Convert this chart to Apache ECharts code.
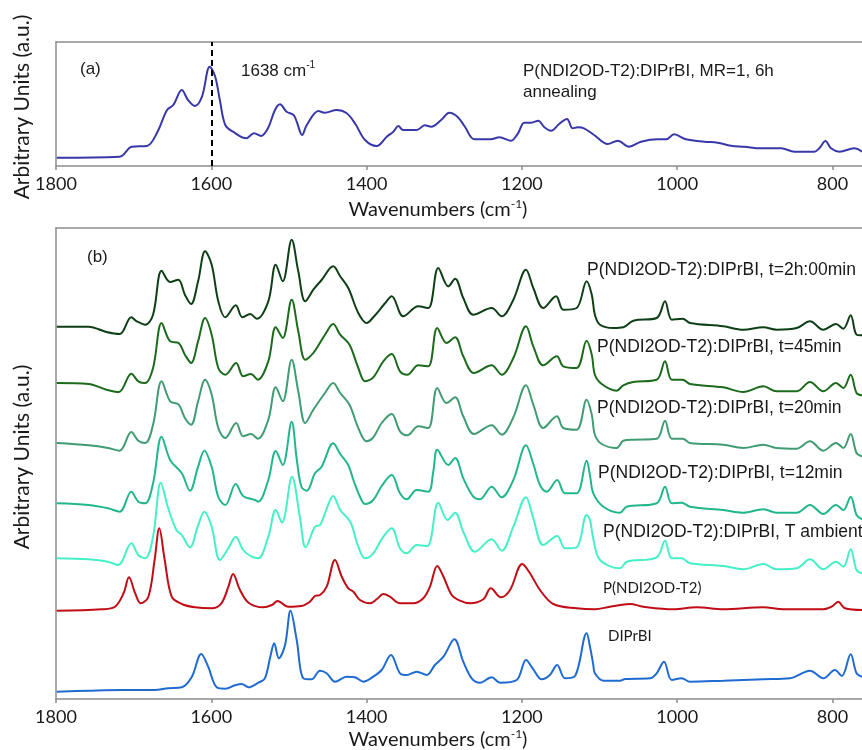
<!DOCTYPE html>
<html>
<head>
<meta charset="utf-8">
<script src="https://cdn.jsdelivr.net/npm/echarts@6/dist/echarts.min.js"></script>
<style>
  html, body { margin: 0; padding: 0; background: #fff; }
  #chart { width: 862px; height: 750px; }
</style>
</head>
<body>
<div id="chart"></div>
<script>
// Raman spectra: wavenumber (cm-1) against intensity (arbitrary units).
// Each spectrum is a list of [wavenumber, intensity] points.

const xTicks = [1800, 1600, 1400, 1200, 1000, 800];
const xMin = 762, xMax = 1800;
const peakMarker = 1600;

// (a) blend, MR=1, after 6 h annealing
const annealed6h = [[1799,8.3],[1718,9.3],[1702.5,19.3],[1683,20],[1670,33],[1657,56],[1649,61],[1638,76],[1630,66],[1621,60],[1612,69.3],[1602,99.3],[1595,89.3],[1589,66],[1582,41],[1572,34.3],[1555,27.7],[1545,32.7],[1536,30],[1527,37.7],[1518,56],[1511.5,61.7],[1503,54.3],[1494,51],[1490,44.3],[1483,31],[1477,41],[1462,55],[1454,53.3],[1438.5,56],[1425.6,52.7],[1415,42.7],[1402,26],[1387,20],[1374,29.3],[1365.6,34.3],[1359,40],[1353,36],[1335.5,36],[1325,40.7],[1317,39.3],[1304,46],[1293.5,53.3],[1283,49.3],[1274,40],[1261,26.7],[1240,26.7],[1229,28.7],[1214,25.3],[1205,32.7],[1197,43.3],[1188,43.3],[1179,45.3],[1171,38.7],[1162.5,35.3],[1152,42],[1142,47],[1134.6,37.7],[1128,38.7],[1120,37.7],[1107,31],[1089.5,22],[1076.6,25.3],[1062,19.3],[1046.6,24.3],[1025,26.7],[1014,26.7],[1004,31.7],[988.7,26.7],[965,24.3],[948,23.3],[930.7,20.3],[913.6,19.3],[892,17.7],[866,17.7],[849,14.3],[823.5,14.3],[817,17.7],[809,25],[802,17.7],[791,14.3],[772,17.7],[762,14.3]];

// (b) stacked spectra
const blend2h = [[1799,372.3],[1758,372.3],[1735,367],[1718,365],[1703,381.7],[1696,377.7],[1685,374.3],[1675,384.3],[1664,428.3],[1653,417],[1642.5,419.3],[1634,404.3],[1626,395],[1617,417.7],[1608,447.7],[1599.5,434.3],[1591,397.7],[1582,381.7],[1568.5,393.7],[1560,381.7],[1550,385],[1541.5,380.3],[1526.6,397.7],[1517,434.3],[1508,417.7],[1496.5,459.3],[1488,427.7],[1479,397.7],[1468.6,409.3],[1458,419],[1443,432.7],[1434,422.7],[1423.6,411],[1410.7,386],[1400,376],[1391.4,381.7],[1376,396],[1367.7,402.7],[1352.7,382.7],[1333.4,392.7],[1320.5,391],[1307.7,431],[1294.8,412.7],[1286,420.3],[1275.5,401],[1262.6,384.3],[1239,391],[1226,382.7],[1211,399.3],[1194.7,429.3],[1185.3,411],[1172.5,391],[1156,402.7],[1146.7,389.3],[1129.5,391],[1116.6,417.7],[1110,404.3],[1106,384.3],[1099.4,374.3],[1082.3,371],[1069.4,371.7],[1056.5,378.3],[1026.4,381],[1015.7,397.7],[1007,379.3],[993,380.3],[983.5,376],[940.7,372.7],[915,369.3],[889,371.7],[872,369.3],[846,371],[829,377.7],[811.9,369.3],[795.5,375],[786,370.3],[776.6,383.7],[769,364.3],[762,363.7]];

const blend45 = [[1799,316],[1758,315],[1735,309.3],[1719,307],[1703,325.3],[1694,317.7],[1685,316],[1675,331],[1664,376],[1653,357.7],[1642,356],[1634,344.3],[1626,336],[1617,357.7],[1608,381],[1599.5,364.3],[1591,331],[1582,324.3],[1568,336],[1559,322.7],[1549,325],[1540,319.3],[1526.6,337.7],[1517,371.7],[1508,361],[1496.5,399.3],[1488,367.7],[1479,339.3],[1468.6,346],[1453.6,364.3],[1443,375],[1434,364.3],[1422,354.3],[1410.7,331],[1402,317.7],[1391.4,321.7],[1378.5,337.7],[1367.7,345],[1357,327.7],[1347.6,324.3],[1333.4,333.7],[1320.5,332.7],[1309,371],[1297,356],[1286,361.7],[1275.5,342.7],[1261.7,326],[1239,333.7],[1226,324.3],[1211,341],[1194.7,372.7],[1185.3,352.7],[1172.5,333.7],[1155,342.7],[1146.7,332.7],[1129.5,331],[1116.6,358.3],[1110,344.3],[1106,324.3],[1097.2,315],[1078,308.3],[1069.4,313.7],[1056.5,317],[1026.4,319.3],[1015.7,337.7],[1007,319.3],[993,319.3],[983.5,315],[940.7,311.7],[915,307],[889,312.7],[872,307.7],[846,307.7],[829,317],[811.9,307.7],[795.5,316],[786,311],[776.6,324.3],[769,306],[762,303.7]];

const blend20 = [[1799,256],[1758,253.7],[1733,251],[1718,248.3],[1703,267],[1694,258.3],[1685,256],[1675,274.3],[1664,317.7],[1653,297.7],[1642,294.3],[1634,281],[1626,274.3],[1617,297.7],[1608,319.3],[1599.5,304.3],[1591,271],[1582,261],[1568,276],[1559,262.7],[1549,265],[1540,260.3],[1526.6,279.3],[1517,311.7],[1508,297.7],[1496.5,339.3],[1488,307.7],[1479,276],[1468.6,289.3],[1453.6,306],[1443,316],[1434,306],[1422,294.3],[1410.7,271],[1400,257.7],[1391.4,261.7],[1380.6,276],[1367.7,285],[1357,267.7],[1347.6,263.7],[1333.4,272.7],[1320.5,271],[1309,311],[1297,296],[1286,301.7],[1275.5,282.7],[1261.7,265],[1239,273.7],[1226,264.3],[1211,281.7],[1194.7,313.7],[1185.3,294.3],[1172.5,271],[1155,282.7],[1146.7,271],[1129.5,269.3],[1116.6,299.3],[1110,284.3],[1106,264.3],[1097.2,255],[1078,251],[1069.4,258.3],[1056.5,259.3],[1026.4,260.3],[1015.7,278.3],[1007,260.3],[993,260.3],[983.5,256],[940.7,254.3],[915,251],[889,254.3],[872,251],[846,250.3],[829,257.7],[811.9,248.3],[795.5,256],[786,251],[776.6,265],[769,246],[762,242.7]];

const blend12 = [[1799,195.7],[1758,194],[1733,190.7],[1718,187.3],[1703,207.3],[1694,197.3],[1685,195.7],[1675,215.7],[1664,262.3],[1653,239],[1638,225.7],[1627.5,208.3],[1617,232.3],[1609,248.3],[1599.5,232],[1591,202],[1582,194],[1568.5,215],[1559,203],[1544,199],[1539.5,197.3],[1526.6,219],[1517,248],[1508,234],[1496.5,277.3],[1490,240],[1484,212.3],[1477,208.3],[1466.5,225.7],[1458,232.3],[1443,255.7],[1434,245],[1423.6,234],[1417,219],[1408.5,202.3],[1402,195],[1391.4,199],[1380.6,213],[1367.7,224],[1357,205.7],[1348.4,199.7],[1335.5,209],[1320.5,207.3],[1314,228],[1309,249.3],[1294.8,234],[1286,241],[1275.5,220.7],[1262.6,202.3],[1254,199.7],[1239,212.3],[1226,201.7],[1211,219],[1194.7,253.7],[1185.3,235],[1176.7,214],[1168,207.3],[1154.6,219],[1144.5,205.7],[1129.5,205.7],[1116.6,238.3],[1112,222],[1108,205.7],[1095,192.3],[1073.7,186.3],[1065,192.3],[1026.4,195.7],[1015.7,212.3],[1007,195.7],[994.2,196.3],[983.5,192.3],[940.7,189],[915,186.3],[889,189.7],[872,186.3],[846,186.3],[829,194],[811.9,185],[795.5,194],[786,189],[776.6,202.3],[769,184],[762,179.7]];

const blendAmbient = [[1799,140.7],[1758,139.7],[1733,137.3],[1720,134],[1703,155.7],[1694,144],[1685,140.7],[1675,162.3],[1665,216.3],[1655.5,190.7],[1645,169],[1638,164],[1627.5,151.7],[1617.5,172.3],[1609,187.3],[1599.5,172.3],[1589,139],[1578,150.7],[1568.5,162.3],[1559,149],[1548,142.3],[1539.5,140.7],[1526.6,162.3],[1517,189],[1509,176.3],[1496,222.3],[1486,182.3],[1478.5,151.7],[1466.5,172.3],[1460,174],[1453.6,185.7],[1443,203],[1434,189],[1421,177.3],[1410.7,152.3],[1402,140.7],[1391.4,145.7],[1379,161.7],[1367.7,170.7],[1357,150.7],[1348.4,145.7],[1335.5,154],[1321.8,153],[1307.7,196.3],[1295.7,179],[1286,186.3],[1275.5,167.3],[1260.4,147.3],[1239,159.7],[1226,148.3],[1211,172.3],[1194.7,201.7],[1185.3,180.7],[1172.5,154],[1154.6,163],[1144.5,150.7],[1129.5,151.7],[1116.6,184],[1112.3,179],[1108,160],[1099.4,139],[1073.7,130.7],[1065,137.3],[1026.4,141.7],[1015.7,158.3],[1007,140.7],[994.2,140.7],[983.5,135.7],[940.7,133],[915,129.7],[889,135],[872,129.7],[846,130.7],[829,139.7],[811.9,129.7],[795.5,137.3],[786,132.3],[776.6,149.7],[769,129],[762,125.7]];

const polymerOnly = [[1799,88.3],[1741,89.7],[1724,92.3],[1713,105.7],[1706,121.7],[1698,105.7],[1691,95.7],[1681,102.3],[1673,139],[1667,170.7],[1660,139],[1651,102.3],[1638,95],[1621,91.7],[1599.5,90.7],[1587,95.7],[1578,112.3],[1572,125],[1563,109],[1552,96.3],[1533,91.7],[1522,94],[1514.5,98],[1501,92.3],[1484,93],[1473,97.3],[1466.5,103],[1460,104],[1451.4,112.3],[1440.7,139],[1432,122.3],[1423.6,110.7],[1417,107.3],[1408.5,99],[1395.6,95.7],[1387,99.7],[1378.5,105],[1370,102.3],[1357,95.7],[1340,95.7],[1327,100.7],[1318.4,112.3],[1309,133],[1301,122.3],[1290.4,104],[1279.7,98.3],[1267,95.7],[1249.7,99.7],[1240,110.7],[1227,101.7],[1215.3,109],[1199.5,135],[1189.6,125.7],[1176.7,109],[1159.6,95],[1129.5,90.7],[1106,89.7],[1086.6,92.3],[1060.8,95],[1043.7,92.3],[1005,89.7],[975,91.7],[940.7,89.7],[889,91.7],[863.4,89.7],[811.9,89.7],[801,92.3],[792.6,97.3],[784,90.7],[762,89]];

const dopantOnly = [[1799,7.3],[1758,8.3],[1715,9],[1673,9],[1655.5,10.7],[1638,11.7],[1625,22.3],[1613,45],[1604,32.3],[1593,11.7],[1582,10.3],[1569.5,13.7],[1561,15],[1552,11.7],[1539.5,16.3],[1531,20.7],[1524,42.3],[1519,55.7],[1513,40.7],[1505,54],[1498,88.3],[1490,59],[1481.5,20.7],[1471,19.7],[1460,28.3],[1451.4,25.7],[1440.7,17.3],[1425.6,22.3],[1415,21.7],[1404,17.3],[1391.4,22.3],[1380.6,29],[1368.6,44],[1357,25.7],[1348.4,24],[1335.5,27.3],[1322.6,24],[1312,34],[1301,42.3],[1287,59.7],[1275.5,37.3],[1264.7,20.7],[1254,16.3],[1239,21.7],[1228,16.3],[1206.7,19],[1194.7,39],[1185.3,29.7],[1174.5,19.7],[1164,24],[1154.6,34],[1144.5,20.7],[1131.6,23],[1116.6,65.7],[1112.3,52.3],[1108,34],[1106,25.7],[1095,18.3],[1073.7,18.3],[1067,20],[1035,20.7],[1026.4,25.7],[1017,37.3],[1007,19],[994.2,20.7],[983.5,17.3],[940.7,18.3],[889,19.7],[854.7,20.7],[829,28.3],[811.9,20.7],[796.8,29],[788,23],[776.6,44.7],[769,25.7],[762,22.3]];

const chart = echarts.init(document.getElementById('chart'), null, { renderer: 'canvas' });

const AXIS_GREY = '#8c8c8c';
const TEXT = '#1a1a1a';
const LABEL_FONT = 'Lato, "Open Sans", sans-serif';
const NOTE_FONT = '"Liberation Sans", Arial, sans-serif';

function bottomAxis(gridIndex) {
  return {
    type: 'value', gridIndex, position: 'bottom', inverse: true,
    min: xMin, max: xMax,
    axisLine: { show: true, onZero: false, lineStyle: { color: AXIS_GREY, width: 1.5 } },
    axisTick: { show: true, customValues: xTicks, length: 4, lineStyle: { color: AXIS_GREY, width: 1.5 } },
    axisLabel: { show: true, customValues: xTicks, margin: 9, fontSize: 18, fontFamily: LABEL_FONT,
                 color: TEXT, formatter: (v) => String(v) },
    splitLine: { show: false }
  };
}
function topBorder(gridIndex) {
  return {
    type: 'value', gridIndex, position: 'top', inverse: true,
    min: xMin, max: xMax,
    axisLine: { show: true, onZero: false, lineStyle: { color: AXIS_GREY, width: 1.5 } },
    axisTick: { show: false }, axisLabel: { show: false }, splitLine: { show: false }
  };
}
function leftAxis(gridIndex, max) {
  return {
    type: 'value', gridIndex, min: 0, max,
    axisLine: { show: true, onZero: false, lineStyle: { color: AXIS_GREY, width: 1.5 } },
    axisTick: { show: false }, axisLabel: { show: false }, splitLine: { show: false }
  };
}
function spectrum(name, data, color, xIdx, yIdx, extra) {
  return Object.assign({
    name, type: 'line', data, xAxisIndex: xIdx, yAxisIndex: yIdx,
    showSymbol: false, smooth: 0.35, silent: true,
    lineStyle: { color, width: 2 }, itemStyle: { color }
  }, extra || {});
}

function noteText(x, y, text, size, font, align) {
  return {
    type: 'text', x, y, silent: true,
    style: { text, fontSize: size, fontFamily: font || NOTE_FONT, fill: TEXT,
             textAlign: align || 'left', textVerticalAlign: 'middle' }
  };
}
function supText(x, y, main, sup, tail, size, font, align) {
  return {
    type: 'text', x, y, silent: true,
    style: {
      text: '{a|' + main + '}{s|' + sup + '}' + (tail ? '{a|' + tail + '}' : ''),
      textAlign: align || 'left', textVerticalAlign: 'middle',
      rich: {
        a: { fontSize: size, fontFamily: font, fill: TEXT, color: TEXT, lineHeight: size + 4 },
        s: { fontSize: Math.round(size * 0.6), fontFamily: font, fill: TEXT, color: TEXT, verticalAlign: 'top', lineHeight: size + 4 }
      }
    }
  };
}
function yName(x, y) {
  return {
    type: 'text', x, y, rotation: Math.PI / 2, silent: true,
    style: { text: 'Arbitrary Units (a.u.)', fontSize: 21, fontFamily: LABEL_FONT, fill: TEXT,
             textAlign: 'center', textVerticalAlign: 'middle' }
  };
}

const option = {
  animation: false,
  backgroundColor: '#ffffff',
  grid: [
    { left: 56, right: 0, top: 42, height: 124 },
    { left: 56, right: 0, top: 228, height: 471 }
  ],
  xAxis: [bottomAxis(0), topBorder(0), bottomAxis(1), topBorder(1)],
  yAxis: [leftAxis(0, 124), leftAxis(1, 471)],
  series: [
    spectrum('P(NDI2OD-T2):DIPrBI, MR=1, 6h annealing', annealed6h, '#3838a8', 0, 0, {
      markLine: {
        silent: true, symbol: ['none', 'none'], label: { show: false },
        lineStyle: { type: [6, 4], color: '#000', width: 2 },
        data: [{ xAxis: peakMarker }]
      }
    }),
    spectrum('DIPrBI', dopantOnly, '#1f6bd1', 2, 1),
    spectrum('P(NDI2OD-T2)', polymerOnly, '#c00d16', 2, 1),
    spectrum('T ambient', blendAmbient, '#45f0c8', 2, 1),
    spectrum('t=12min', blend12, '#22b68c', 2, 1),
    spectrum('t=20min', blend20, '#409c72', 2, 1),
    spectrum('t=45min', blend45, '#1c6b1c', 2, 1),
    spectrum('t=2h:00min', blend2h, '#0f3f16', 2, 1)
  ],
  graphic: [
    yName(22, 107),
    yName(22, 457),
    supText(438, 210, 'Wavenumbers (cm', '-1', ')', 20, LABEL_FONT, 'center'),
    supText(438, 740, 'Wavenumbers (cm', '-1', ')', 20, LABEL_FONT, 'center'),
    noteText(80, 69, '(a)', 17),
    supText(241, 71, '1638 cm', '-1', '', 17, NOTE_FONT, 'left'),
    noteText(523, 71, 'P(NDI2OD-T2):DIPrBI, MR=1, 6h', 17),
    noteText(523, 92, 'annealing', 17),
    noteText(87, 257, '(b)', 17),
    noteText(587, 270, 'P(NDI2OD-T2):DIPrBI, t=2h:00min', 17.5),
    noteText(597, 347, 'P(NDI2OD-T2):DIPrBI, t=45min', 17.5),
    noteText(597, 408, 'P(NDI2OD-T2):DIPrBI, t=20min', 17.5),
    noteText(598, 473, 'P(NDI2OD-T2):DIPrBI, t=12min', 17.5),
    noteText(603, 532, 'P(NDI2OD-T2):DIPrBI, T ambient', 17.5),
    noteText(603, 588, 'P(NDI2OD-T2)', 15, LABEL_FONT),
    noteText(608, 636, 'DIPrBI', 15, LABEL_FONT)
  ]
};

chart.setOption(option);
</script>
</body>
</html>
